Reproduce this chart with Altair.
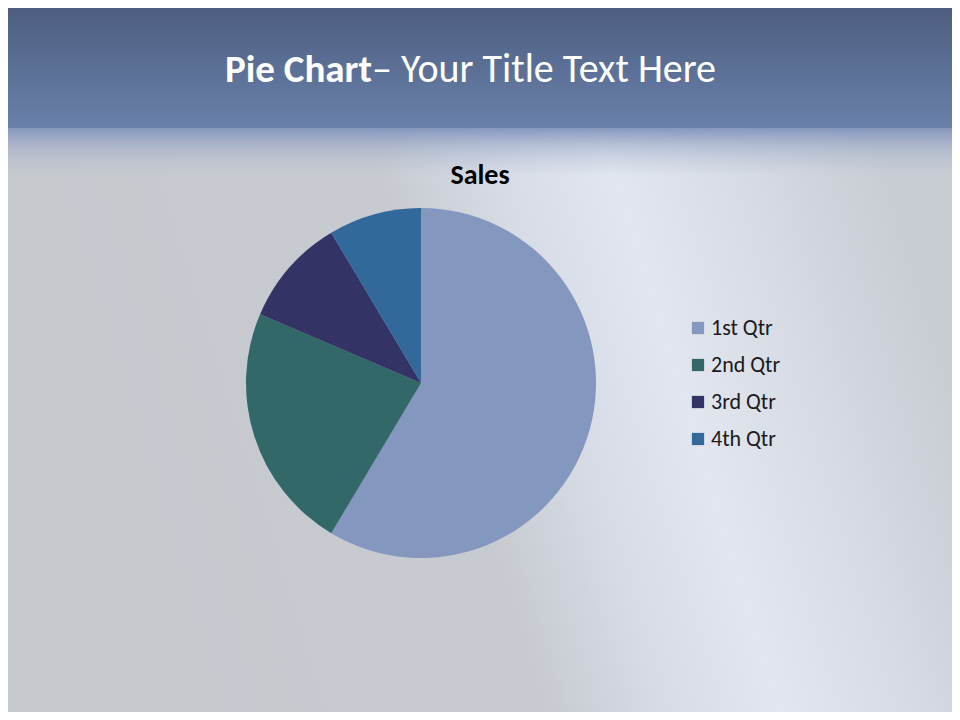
import altair as alt
import pandas as pd

# ---- data ----
categories = ["1st Qtr", "2nd Qtr", "3rd Qtr", "4th Qtr"]
sales = [8.2, 3.2, 1.4, 1.2]
colors = ["#8497be", "#336868", "#333366", "#33689b"]
title_bold = "Pie Chart"
title_rest = "– Your Title Text Here"
chart_title = "Sales"

df = pd.DataFrame({"quarter": categories, "sales": sales, "order": list(range(len(categories)))})
one = pd.DataFrame({"k": [0]})

W, H = 944, 704
OFF = 8  # page margin
FONT = "Carlito, Lato, sans-serif"

def G(stops, x1=0, y1=0, x2=0, y2=1, kind="linear"):
    return alt.Gradient(
        gradient=kind,
        stops=[alt.GradientStop(offset=o, color=c) for o, c in stops],
        x1=x1, y1=y1, x2=x2, y2=y2,
    )

BAND = 128 - OFF

top_band = alt.Chart(one).mark_rect(
    color=G([(0, "#4d5e80"), (1, "#6a81ab")])
).encode(x=alt.value(0), x2=alt.value(W), y=alt.value(0), y2=alt.value(BAND))

lower = alt.Chart(one).mark_rect(
    color=G([(0, "#c5c8cd"), (0.48, "#c7cad0"), (0.6, "#d6dbe5"), (0.72, "#e1e6ef"),
             (0.86, "#d5dae3"), (1, "#c8ccd3")],
            x1=0, y1=0.62, x2=1, y2=0.43)
).encode(x=alt.value(0), x2=alt.value(W), y=alt.value(BAND), y2=alt.value(H))

glow = alt.Chart(one).mark_rect(
    color=G([(0, "rgba(128,148,188,0.95)"), (0.4, "rgba(150,165,198,0.5)"), (1, "rgba(180,190,210,0)")])
).encode(x=alt.value(0), x2=alt.value(W), y=alt.value(BAND), y2=alt.value(BAND + 48))

t1 = alt.Chart(one).mark_text(
    text=title_bold, font=FONT, fontSize=39, fontWeight="bold", color="white",
    align="right", baseline="alphabetic"
).encode(x=alt.value(372 - OFF), y=alt.value(82 - OFF))

t2 = alt.Chart(one).mark_text(
    text=title_rest, font=FONT, fontSize=40, fontWeight="normal", color="white",
    align="left", baseline="alphabetic"
).encode(x=alt.value(372 - OFF), y=alt.value(82 - OFF))

sales_title = alt.Chart(one).mark_text(
    text=chart_title, font=FONT, fontSize=28, fontWeight="bold", color="black",
    align="center", baseline="alphabetic"
).encode(x=alt.value(480 - OFF), y=alt.value(184 - OFF))

CX, CY, R = 421 - OFF, 383 - OFF, 175

shadow = alt.Chart(one).mark_circle(
    color="black", opacity=0.12, size=3.14159 * (R + 3) ** 2
).encode(x=alt.value(CX + 2), y=alt.value(CY + 4))

pie = alt.Chart(df).mark_arc(radius=R).encode(
    theta=alt.Theta("sales:Q", stack=True),
    order=alt.Order("order:Q"),
    color=alt.Color(
        "quarter:N",
        scale=alt.Scale(domain=categories, range=colors),
        sort=categories,
        legend=alt.Legend(
            title=None, orient="none", legendX=687 - OFF, legendY=317 - OFF,
            symbolType="square", symbolSize=150, symbolStrokeWidth=0,
            labelFont=FONT, labelFontSize=22, labelColor="#1a1a1a",
            labelOffset=2, rowPadding=15, padding=0,
        ),
    ),
    x=alt.value(CX),
    y=alt.value(CY),
)

chart = alt.layer(top_band, lower, glow, t1, t2, sales_title, shadow, pie).properties(
    width=W, height=H, padding=0,
    autosize=alt.AutoSizeParams(type="fit", contains="padding"),
).configure_view(stroke=None).configure(background="#c8cbd0")

chart.save("out.html", embed_options={"renderer": "svg", "actions": False})
